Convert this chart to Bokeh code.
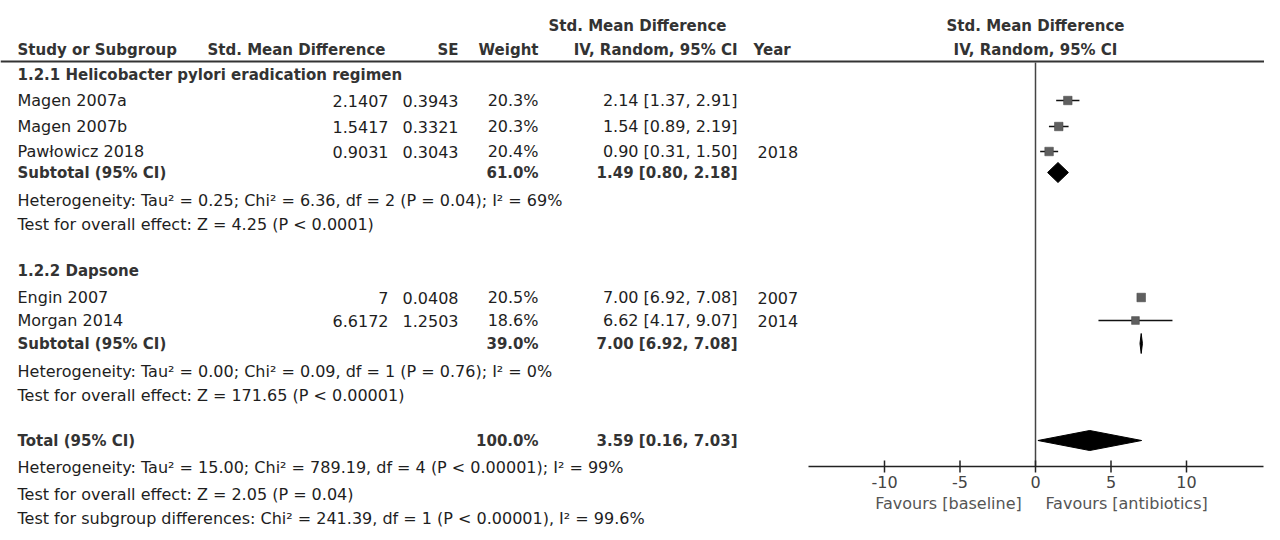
from bokeh.plotting import figure
from bokeh.models import Range1d
from bokeh.core.properties import value
from bokeh.embed import file_html
from bokeh.resources import INLINE

# ---------------- data ----------------
group_titles = ["1.2.1 Helicobacter pylori eradication regimen", "1.2.2 Dapsone"]
studies = ["Magen 2007a", "Magen 2007b", "Pawłowicz 2018", "Engin 2007", "Morgan 2014"]
smd = ["2.1407", "1.5417", "0.9031", "7", "6.6172"]
se = ["0.3943", "0.3321", "0.3043", "0.0408", "1.2503"]
weight = [20.3, 20.3, 20.4, 20.5, 18.6]
est = [2.14, 1.54, 0.90, 7.00, 6.62]
lo = [1.37, 0.89, 0.31, 6.92, 4.17]
hi = [2.91, 2.19, 1.50, 7.08, 9.07]
years = ["", "", "2018", "2007", "2014"]

sub_labels = ["Subtotal (95% CI)", "Subtotal (95% CI)"]
sub_weight = [61.0, 39.0]
sub_est = [1.49, 7.00]
sub_lo = [0.80, 6.92]
sub_hi = [2.18, 7.08]
sub_notes = [
    ["Heterogeneity: Tau² = 0.25; Chi² = 6.36, df = 2 (P = 0.04); I² = 69%",
     "Test for overall effect: Z = 4.25 (P < 0.0001)"],
    ["Heterogeneity: Tau² = 0.00; Chi² = 0.09, df = 1 (P = 0.76); I² = 0%",
     "Test for overall effect: Z = 171.65 (P < 0.00001)"],
]
total_label = "Total (95% CI)"
total_weight = 100.0
total_est, total_lo, total_hi = 3.59, 0.16, 7.03
total_notes = [
    "Heterogeneity: Tau² = 15.00; Chi² = 789.19, df = 4 (P < 0.00001); I² = 99%",
    "Test for overall effect: Z = 2.05 (P = 0.04)",
    "Test for subgroup differences: Chi² = 241.39, df = 1 (P < 0.00001), I² = 99.6%",
]
tick_vals = [-10, -5, 0, 5, 10]
tick_labels = ["-10", "-5", "0", "5", "10"]
favours = ["Favours [baseline]", "Favours [antibiotics]"]
header_top = "Std. Mean Difference"
header_cols = ["Study or Subgroup", "Std. Mean Difference", "SE", "Weight", "IV, Random, 95% CI", "Year"]
header_right = ["Std. Mean Difference", "IV, Random, 95% CI"]

# ---------------- layout ----------------
W, H = 1264, 532
ZERO_PX, PX_PER = 1035.0, 15.1
FONT = value("DejaVu Sans")
FS = "16px"
FSB = "15px"
TXT = "#1e1e1e"
HDR = "#333333"

p = figure(width=W, height=H, output_backend="svg", toolbar_location=None,
           x_range=Range1d(0, W), y_range=Range1d(H, 0),
           x_axis_type=None, y_axis_type=None, min_border=0)
p.extra_x_ranges = {"forest": Range1d((0 - ZERO_PX) / PX_PER, (W - ZERO_PX) / PX_PER)}
p.grid.visible = False
p.outline_line_color = None
p.background_fill_color = "white"


def txt(x, y, s, align="left", bold=False, color=TXT, size=None, rng="default"):
    xs = x if isinstance(x, list) else [x]
    ys = y if isinstance(y, list) else [y]
    ss = s if isinstance(s, list) else [s]
    if size is None:
        size = FSB if bold else FS
    p.text(x=xs, y=ys, text=ss, text_align=align, text_baseline="middle",
           text_font=FONT, text_font_size=size, text_color=color,
           text_font_style="bold" if bold else "normal", x_range_name=rng)


# column positions
X_NAME, X_SMD, X_SE, X_W, X_CI, X_YEAR = 17, 388, 458, 538, 737, 753

# headers
txt(637, 25, header_top, "center", True, HDR)
txt(X_NAME, 49, header_cols[0], "left", True, HDR)
txt(207, 49, header_cols[1], "left", True, HDR)
txt(X_SE, 49, header_cols[2], "right", True, HDR)
txt(X_W, 49, header_cols[3], "right", True, HDR)
txt(X_CI, 49, header_cols[4], "right", True, HDR)
txt(X_YEAR, 49, header_cols[5], "left", True, HDR)
txt(ZERO_PX, 25, header_right[0], "center", True, HDR)
txt(ZERO_PX, 49, header_right[1], "center", True, HDR)
p.segment(x0=[0], x1=[W], y0=[61], y1=[61], line_color="#333333", line_width=2)

# rows
study_y = [100, 126, 151, 297, 320]
sub_y = [172, 343]
group_y = [74, 270]
note_y = [[200, 224], [371, 395]]
total_y = 440
total_note_y = [467, 494, 518]

txt([X_NAME] * 2, group_y, group_titles, "left", True, HDR)
txt([X_NAME] * 5, study_y, studies)
txt([X_SMD] * 5, study_y, smd, "right")
txt([X_SE] * 5, study_y, se, "right")
txt([X_W] * 5, study_y, [f"{w:.1f}%" for w in weight], "right")
txt([X_CI] * 5, study_y, [f"{e:.2f} [{l:.2f}, {h:.2f}]" for e, l, h in zip(est, lo, hi)], "right")
txt([X_YEAR + 4] * 5, study_y, years)

txt([X_NAME] * 2, sub_y, sub_labels, "left", True, HDR)
txt([X_W] * 2, sub_y, [f"{w:.1f}%" for w in sub_weight], "right", True, HDR)
txt([X_CI] * 2, sub_y, [f"{e:.2f} [{l:.2f}, {h:.2f}]" for e, l, h in zip(sub_est, sub_lo, sub_hi)],
    "right", True, HDR)
for ny, notes in zip(note_y, sub_notes):
    txt([X_NAME] * len(notes), ny, notes)

txt(X_NAME, total_y, total_label, "left", True, HDR)
txt(X_W, total_y, f"{total_weight:.1f}%", "right", True, HDR)
txt(X_CI, total_y, f"{total_est:.2f} [{total_lo:.2f}, {total_hi:.2f}]", "right", True, HDR)
txt([X_NAME] * 3, total_note_y, total_notes)

# ---------------- forest ----------------
AXIS_Y = 466
# zero line
p.segment(x0=[0], x1=[0], y0=[62], y1=[AXIS_Y], x_range_name="forest",
          line_color="#444444", line_width=1.5)
# study CIs and squares
p.segment(x0=lo, x1=hi, y0=study_y, y1=study_y, x_range_name="forest",
          line_color="#111111", line_width=1.4)
p.scatter(x=est, y=study_y, marker="square", size=[w * 0.42 for w in weight],
          fill_color="#5f5f5f", line_color="#444444", line_width=0.5, x_range_name="forest")
# subtotal diamonds
DH = 10
xs = [[l, e, h, e] for l, e, h in zip(sub_lo, sub_est, sub_hi)]
ys = [[y, y - DH, y, y + DH] for y in sub_y]
p.patches(xs=xs, ys=ys, fill_color="black", line_color="black", line_width=1,
          x_range_name="forest")
p.patch(x=[total_lo, total_est, total_hi, total_est],
        y=[total_y, total_y - DH, total_y, total_y + DH],
        fill_color="black", line_color="black", line_width=1, x_range_name="forest")

# axis
p.segment(x0=[(808 - ZERO_PX) / PX_PER], x1=[(1263 - ZERO_PX) / PX_PER], y0=[AXIS_Y], y1=[AXIS_Y],
          x_range_name="forest", line_color="#222222", line_width=1.5)
p.segment(x0=tick_vals, x1=tick_vals, y0=[AXIS_Y - 6] * 5, y1=[AXIS_Y + 6] * 5,
          x_range_name="forest", line_color="#222222", line_width=1.5)
txt(tick_vals, [481] * 5, tick_labels, "center", False, "#444444", rng="forest")
txt([-5.76, 6.03], [503, 503], favours, "center", False, "#555555", rng="forest")

open("out.html", "w").write(file_html(p, INLINE))
